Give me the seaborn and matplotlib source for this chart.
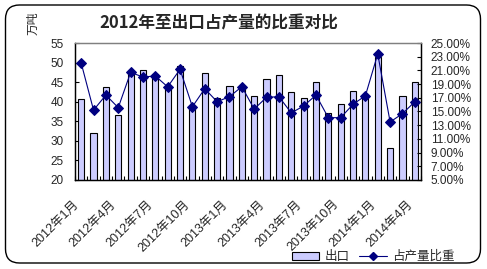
import numpy as np
import pandas as pd
import matplotlib
matplotlib.use("Agg")
import matplotlib.pyplot as plt
import seaborn as sns
from matplotlib.patches import FancyBboxPatch, Patch
from matplotlib.lines import Line2D
from matplotlib.transforms import IdentityTransform, ScaledTranslation

# ---- data ----
months = ["2012年1月", "2012年2月", "2012年3月", "2012年4月", "2012年5月", "2012年6月",
          "2012年7月", "2012年8月", "2012年9月", "2012年10月", "2012年11月", "2012年12月",
          "2013年1月", "2013年2月", "2013年3月", "2013年4月", "2013年5月", "2013年6月",
          "2013年7月", "2013年8月", "2013年9月", "2013年10月", "2013年11月", "2013年12月",
          "2014年1月", "2014年2月", "2014年3月", "2014年4月"]
exports = [40.6, 31.9, 43.7, 36.5, 47.9, 48.1, 47.0, 44.0, 49.1, 39.0, 47.3, 40.9,
           43.9, 43.3, 41.4, 45.8, 46.8, 42.4, 40.9, 45.0, 37.0, 39.3, 42.7, 41.5,
           51.4, 28.1, 41.4, 45.0]
ratio = [22.08, 15.2, 17.4, 15.56, 20.7, 20.04, 20.18, 18.6, 21.16, 15.7, 18.33, 16.43,
         17.16, 18.62, 15.36, 17.07, 17.16, 14.8, 15.8, 17.4, 14.1, 14.1, 16.05, 17.3,
         23.4, 13.47, 14.68, 16.43]
left_ticks = [20, 25, 30, 35, 40, 45, 50, 55]
right_ticks = [5, 7, 9, 11, 13, 15, 17, 19, 21, 23, 25]
right_tick_labels = [f"{v:.2f}%" for v in right_ticks]
title = "2012年至出口占产量的比重对比"
unit_label = "万吨"
legend_labels = ["出口", "占产量比重"]

BAR_COLOR = "#CCCCFF"
LINE_COLOR = "#000080"

sns.set_theme(style="white")
plt.rcParams["font.family"] = ["Liberation Sans", "Noto Sans CJK SC", "DejaVu Sans"]

df = pd.DataFrame({"month": months, "export": exports, "ratio": ratio, "pos": np.arange(len(months))})

fig = plt.figure(figsize=(4.87, 2.69), dpi=100)
ax = fig.add_axes([75 / 487, 1 - 180 / 269, 346 / 487, 137 / 269])

sns.barplot(data=df, x="month", y="export", color=BAR_COLOR, saturation=1,
            edgecolor="black", linewidth=0.8, width=0.5, ax=ax)
ax.set_ylim(20, 55)
ax.set_yticks(left_ticks)
ax.set_yticklabels([str(v) for v in left_ticks], fontsize=8.5)

ax2 = ax.twinx()
sns.lineplot(data=df, x="pos", y="ratio", ax=ax2, color=LINE_COLOR, marker="D",
             markersize=5.5, markeredgecolor=LINE_COLOR, linewidth=0.8)
ax2.set_ylim(5, 25)
ax2.set_yticks(right_ticks)
ax2.set_yticklabels(right_tick_labels, fontsize=8.5)

ax.set_xlim(-0.5, len(months) - 0.5)
ax2.set_xlim(-0.5, len(months) - 0.5)
for a in (ax, ax2):
    a.set_xlabel("")
    a.set_ylabel("")
    a.grid(False)

# x ticks
ax.set_xticks(np.arange(0, len(months), 3))
ax.set_xticklabels(months[::3], rotation=45, ha="right", rotation_mode="anchor", fontsize=9)
ax.set_xticks(np.arange(-0.5, len(months), 1), minor=True)
ax.tick_params(axis="x", which="major", length=0, pad=13)
ax.tick_params(axis="x", which="minor", direction="in", length=3, width=0.8, color="black", bottom=True)
off = ScaledTranslation(-6 / 72, 0, fig.dpi_scale_trans)
for lab in ax.get_xticklabels():
    lab.set_transform(lab.get_transform() + off)

ax.tick_params(axis="y", direction="in", length=3, width=0.8, color="black", pad=8, left=True)
ax2.tick_params(axis="y", direction="in", length=3, width=0.8, color="black", pad=7, right=True)

for a in (ax, ax2):
    for s in ("left", "bottom", "right"):
        a.spines[s].set_color("black")
        a.spines[s].set_linewidth(0.9)
    a.spines["top"].set_color("#808080")
    a.spines["top"].set_linewidth(0.9)

if ax2.get_legend():
    ax2.get_legend().remove()

# title & unit
fig.text(218.5 / 487, 1 - 23 / 269, title, ha="center", va="center", fontsize=12,
         fontweight="bold", family=["Noto Sans CJK SC", "DejaVu Sans"])
fig.text(33 / 487, 1 - 23 / 269, unit_label, ha="center", va="center", rotation=90,
         fontsize=8.5, family=["Noto Sans CJK SC", "DejaVu Sans"])

handles = [Patch(facecolor=BAR_COLOR, edgecolor="black", linewidth=0.8),
           Line2D([], [], color=LINE_COLOR, marker="D", markersize=4.5, linewidth=0.8)]
fig.legend(handles, legend_labels, ncol=2, frameon=False, loc="center",
           bbox_to_anchor=(373 / 487, 1 - 257 / 269), fontsize=9,
           handlelength=2.2, handleheight=0.6, columnspacing=0.8, handletextpad=0.4)

fig.add_artist(FancyBboxPatch((5.5, 6), 475, 258, boxstyle="round,pad=0,rounding_size=14",
                              transform=IdentityTransform(), fill=False,
                              edgecolor="black", linewidth=1))

fig.savefig("out.png", dpi=100, facecolor="white")
